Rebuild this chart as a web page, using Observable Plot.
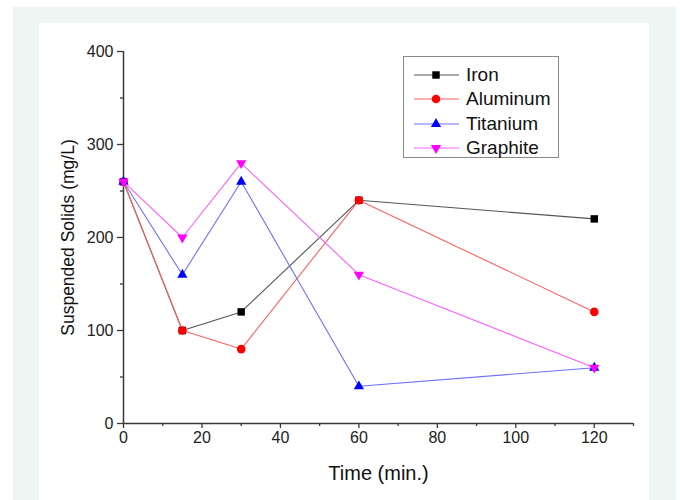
<!DOCTYPE html>
<html>
<head>
<meta charset="utf-8">
<script src="https://cdn.jsdelivr.net/npm/d3@7"></script>
<script src="https://cdn.jsdelivr.net/npm/@observablehq/plot@0.6"></script>
<style>
  html, body { margin: 0; padding: 0; background: #ffffff; }
  body { width: 680px; height: 500px; position: relative; overflow: hidden; font-family: "Liberation Sans", Arial, sans-serif; }
  #outer { position: absolute; left: 13px; top: 7px; width: 663px; height: 493px; background: #edf6f2; }
  #panel { position: absolute; left: 39px; top: 23px; width: 610px; height: 477px; background: #ffffff; }
  #chart { position: absolute; left: 0; top: 0; }
  #legend { position: absolute; left: 403px; top: 56px; width: 156px; height: 102px; border: 1px solid #8a8a8a; background: #ffffff; box-sizing: border-box; }
  .row { position: absolute; left: 0; height: 24px; display: flex; align-items: center; }
  .row span { font-size: 19px; color: #111; margin-left: 7px; line-height: 24px; }
</style>
</head>
<body>
<div id="outer"></div>
<div id="panel"></div>
<div id="chart"></div>
<div id="legend"></div>
<script>
// ---- data ----
const times = [0, 15, 30, 60, 120];
const seriesNames = ["Iron", "Aluminum", "Titanium", "Graphite"];
const iron = [260, 100, 120, 240, 220];
const aluminum = [260, 100, 80, 240, 120];
const titanium = [260, 160, 260, 40, 60];
const graphite = [260, 200, 280, 160, 60];
const xMajorTicks = [0, 20, 40, 60, 80, 100, 120];
const xMinorTicks = [10, 30, 50, 70, 90, 110, 130];
const yMajorTicks = [0, 100, 200, 300, 400];
const yMinorTicks = [50, 150, 250, 350];
const xLabel = "Time (min.)";
const yLabel = "Suspended Solids (mg/L)";

// ---- styles ----
const invTriangle = {
  draw(context, size) {
    const sqrt3 = Math.sqrt(3);
    const y = -Math.sqrt(size / (sqrt3 * 3));
    context.moveTo(0, -y * 2);
    context.lineTo(-sqrt3 * y, y);
    context.lineTo(sqrt3 * y, y);
    context.closePath();
  }
};
const styles = [
  {color: "#000000", line: "#555555", symbol: "square", r: 4.2},
  {color: "#ff0000", line: "#ff6060", symbol: "circle", r: 4.3},
  {color: "#0000ff", line: "#7070ff", symbol: "triangle", r: 3.8},
  {color: "#ff00ff", line: "#ff60ff", symbol: invTriangle, r: 3.8}
];
const values = [iron, aluminum, titanium, graphite];
const tables = values.map((vals, i) => times.map((t, j) => ({time: t, value: vals[j], series: seriesNames[i]})));

const seriesMarks = tables.flatMap((data, i) => [
  Plot.line(data, {x: "time", y: "value", stroke: styles[i].line, strokeWidth: 1.1}),
  Plot.dot(data, {x: "time", y: "value", fill: styles[i].color, stroke: "none", symbol: () => styles[i].symbol, r: styles[i].r})
]);

const axisColor = "#3a3a3a";
const chart = Plot.plot({
  width: 680,
  height: 500,
  marginLeft: 123,
  marginRight: 47,
  marginTop: 51,
  marginBottom: 77,
  style: {background: "transparent", fontFamily: "'Liberation Sans', Arial, sans-serif", color: "#222"},
  x: {domain: [0, 130]},
  y: {domain: [0, 400]},
  symbol: {type: "identity"},
  marks: [
    Plot.axisX({ticks: xMajorTicks, tickSize: 5, tickPadding: 3, fontSize: 16, label: null, stroke: axisColor, strokeWidth: 1.3, fill: "#222"}),
    Plot.axisX({ticks: xMinorTicks, tickSize: 3, text: null, label: null, stroke: axisColor, strokeWidth: 1.3}),
    Plot.axisY({ticks: yMajorTicks, tickSize: 6, tickPadding: 4, fontSize: 16, label: null, stroke: axisColor, strokeWidth: 1.3, fill: "#222"}),
    Plot.axisY({ticks: yMinorTicks, tickSize: 3, text: null, label: null, stroke: axisColor, strokeWidth: 1.3}),
    Plot.ruleY([0], {stroke: axisColor, strokeWidth: 1.5}),
    Plot.ruleX([0], {stroke: axisColor, strokeWidth: 1.5}),
    Plot.text([xLabel], {text: d => d, frameAnchor: "bottom", textAnchor: "middle", lineAnchor: "middle", dy: 50, fontSize: 20, fill: "#111"}),
    Plot.text([yLabel], {text: d => d, frameAnchor: "left", textAnchor: "middle", lineAnchor: "middle", rotate: -90, dx: -55, fontSize: 17.5, fill: "#111"}),
    ...seriesMarks
  ]
});
document.getElementById("chart").appendChild(chart);

// ---- legend ----
const legend = d3.select("#legend");
seriesNames.forEach((name, i) => {
  const row = legend.append("div").attr("class", "row").style("top", (6 + i * 24.3) + "px");
  const svg = row.append("svg").attr("width", 55).attr("height", 24).style("display", "block");
  svg.append("line").attr("x1", 10).attr("x2", 55).attr("y1", 12).attr("y2", 12)
    .attr("stroke", styles[i].line).attr("stroke-width", 1.1);
  const sym = typeof styles[i].symbol === "string"
    ? {square: d3.symbolSquare, circle: d3.symbolCircle, triangle: d3.symbolTriangle}[styles[i].symbol]
    : styles[i].symbol;
  svg.append("path").attr("d", d3.symbol(sym, Math.PI * styles[i].r * styles[i].r)())
    .attr("transform", "translate(32,12)").attr("fill", styles[i].color);
  row.append("span").text(name);
});
</script>
</body>
</html>
